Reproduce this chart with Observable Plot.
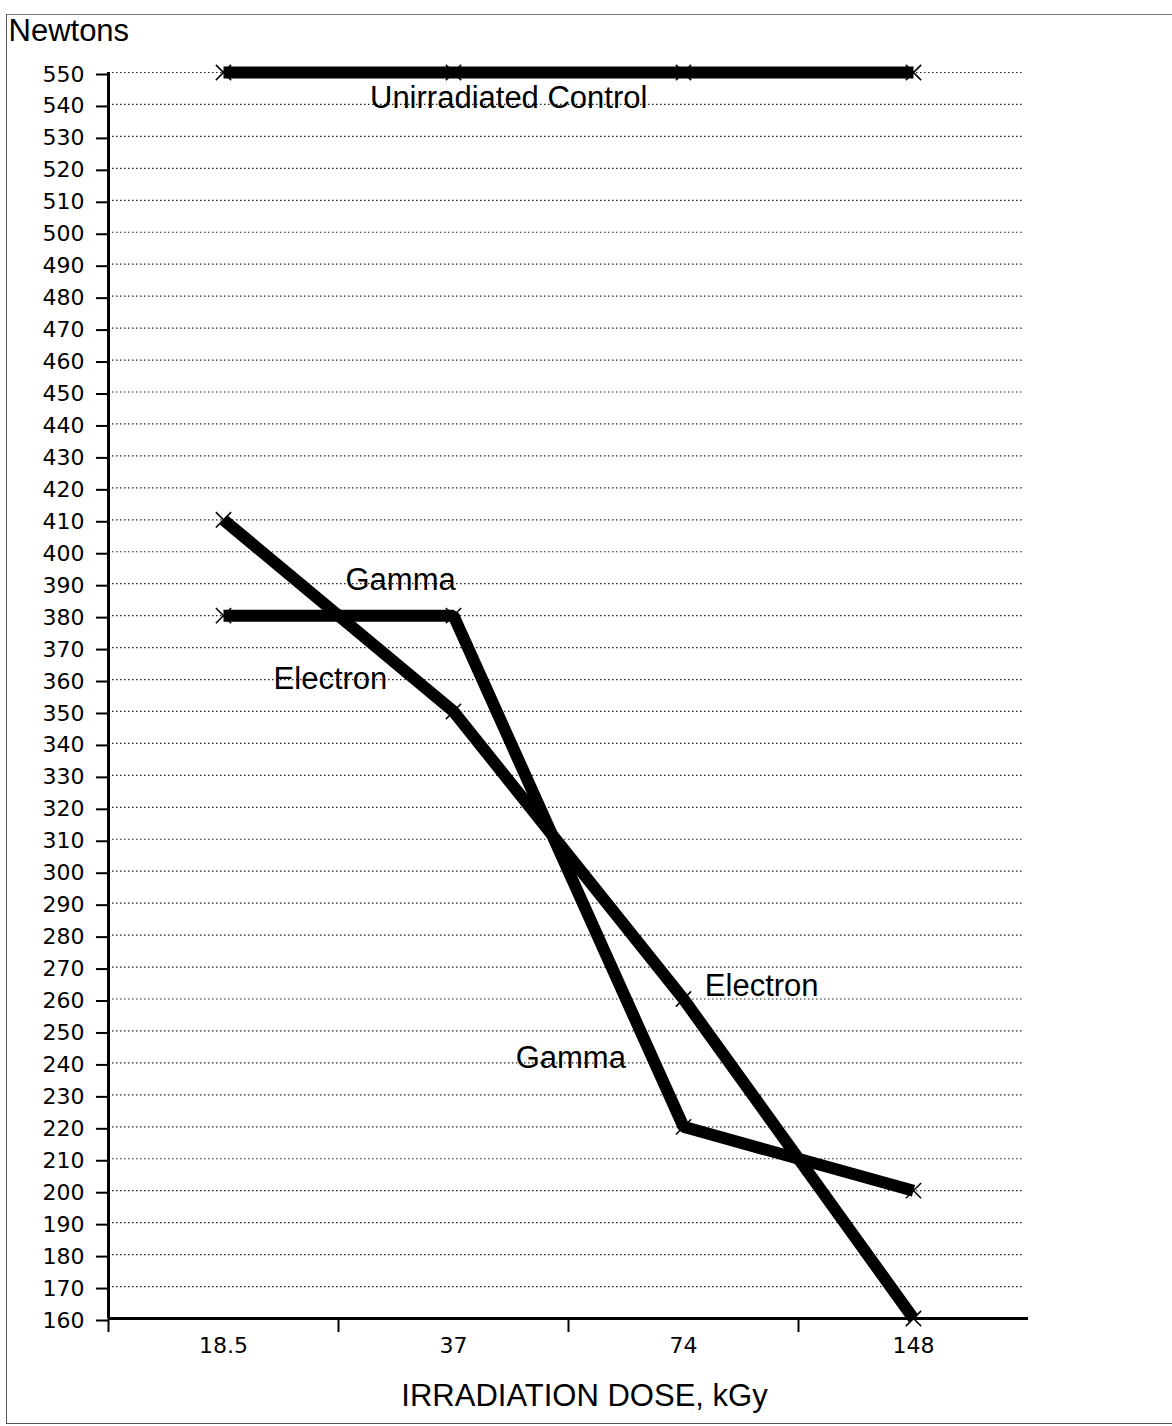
<!DOCTYPE html>
<html>
<head>
<meta charset="utf-8">
<script src="https://cdn.jsdelivr.net/npm/d3@7"></script>
<script src="https://cdn.jsdelivr.net/npm/@observablehq/plot@0.6"></script>
<style>
  html, body { margin: 0; padding: 0; background: #fff; }
  #wrap { position: relative; width: 1172px; height: 1426px; overflow: hidden; }
  #frame { position: absolute; left: 6px; top: 14px; width: 1172px; height: 1408px;
           border-left: 1.5px solid #555; border-top: 1.5px solid #777; border-bottom: 1.5px solid #555;
           pointer-events: none; }
</style>
</head>
<body>
<div id="wrap"><div id="frame"></div></div>
<script>
// ---- data ----
const doses = ["18.5", "37", "74", "148"];
const controlValues = [550, 550, 550, 550];
const gammaValues = [380, 380, 220, 200];
const electronValues = [410, 350, 260, 160];
const yTicks = [160, 170, 180, 190, 200, 210, 220, 230, 240, 250, 260, 270, 280, 290, 300,
  310, 320, 330, 340, 350, 360, 370, 380, 390, 400, 410, 420, 430, 440, 450,
  460, 470, 480, 490, 500, 510, 520, 530, 540, 550];
const bandEdges = [-0.5, 0.5, 1.5, 2.5];
const labelTexts = ["Unirradiated Control", "Gamma", "Electron", "Electron", "Gamma"];
const labelX = [1.24, 0.77, 0.465, 2.34, 1.51];
const labelY = [542, 391, 360, 264, 241.5];

// ---- tidy tables ----
const series = [
  {name: "Unirradiated Control", values: controlValues},
  {name: "Gamma", values: gammaValues},
  {name: "Electron", values: electronValues}
];
const rows = series.flatMap(s => s.values.map((v, i) => ({series: s.name, i, dose: doses[i], value: v})));
const labels = labelTexts.map((t, k) => ({text: t, x: labelX[k], y: labelY[k]}));

const SANS = "Liberation Sans, Arial, Helvetica, sans-serif";
const NUM = "DejaVu Sans, sans-serif";

const chart = Plot.plot({
  width: 1172,
  height: 1426,
  marginLeft: 108,
  marginRight: 144,
  marginTop: 72,
  marginBottom: 108,
  style: {fontFamily: NUM, fontSize: "22px", color: "#000", background: "transparent"},
  x: {domain: [-0.5, 3.5], axis: null},
  y: {domain: [160, 550], axis: null},
  marks: [
    // dotted gridlines
    Plot.ruleY(yTicks, {stroke: "#222", strokeWidth: 1.2, strokeDasharray: "1.5,2.5", insetRight: 6}),
    // y axis ticks and labels
    Plot.axisY({ticks: yTicks, tickSize: 12, tickPadding: 12, tickFormat: d => String(d),
      fontFamily: NUM, fontSize: 22, strokeWidth: 2, label: null, dy: 2}),
    // x axis band-edge ticks
    Plot.axisX({ticks: bandEdges, tickSize: 14, tickFormat: () => "", strokeWidth: 2, label: null}),
    // x axis category labels
    Plot.axisX({ticks: [0, 1, 2, 3], tickSize: 0, tickPadding: 19, tickFormat: i => doses[i],
      fontFamily: NUM, fontSize: 22, label: null}),
    // axis lines
    Plot.ruleX([-0.5], {stroke: "#000", strokeWidth: 3}),
    Plot.ruleY([160], {stroke: "#000", strokeWidth: 3}),
    // series lines
    Plot.line(rows, {x: "i", y: "value", z: "series", stroke: "#000", strokeWidth: 12,
      strokeLinecap: "butt", strokeLinejoin: "miter"}),
    // x markers
    Plot.dot(rows, {x: "i", y: "value", symbol: "times", r: 7, stroke: "#000", strokeWidth: 1.5}),
    // series labels
    Plot.text(labels, {x: "x", y: "y", text: "text", fontFamily: SANS, fontSize: 31,
      fill: "#000", textAnchor: "middle", lineAnchor: "middle"}),
    // y-axis unit label
    Plot.text(["Newtons"], {frameAnchor: "top-left", text: d => d, dx: -100, dy: -32,
      textAnchor: "start", lineAnchor: "bottom", fontFamily: SANS, fontSize: 31, fill: "#000"}),
    // x-axis title
    Plot.text(["IRRADIATION DOSE, kGy"], {frameAnchor: "bottom", text: d => d, dx: 16, dy: 87,
      textAnchor: "middle", lineAnchor: "bottom", fontFamily: SANS, fontSize: 31, fill: "#000"})
  ]
});
chart.style.position = "absolute";
chart.style.left = "0";
chart.style.top = "0";
document.getElementById("wrap").prepend(chart);
</script>
</body>
</html>
